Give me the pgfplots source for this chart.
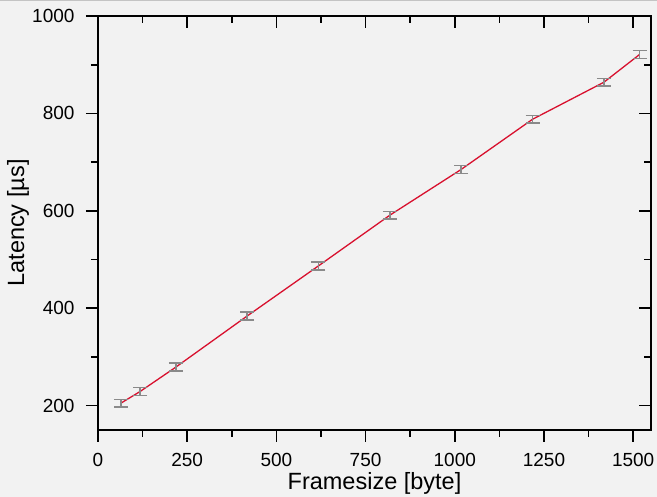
\documentclass[border=0pt]{standalone}
\usepackage{fontspec}
\setmainfont{Liberation Sans}
\usepackage{pgfplots}
\pgfplotsset{compat=1.18}
\definecolor{bgpanel}{HTML}{F2F2F2}
\definecolor{topline}{HTML}{C4C4C4}
\definecolor{latred}{HTML}{D8102E}
\definecolor{errgray}{HTML}{8A8A8A}

% frame size [byte], latency [us], error [us]
\pgfplotstableread{
x    y    e
64   205  8
118  229  8
218  279  8
418  384  8
618  487  8
818  591  8
1018 685  8
1218 788  8
1418 864  8
1518 921  8
}\latency

\pgfplotsset{
  frame/.style={
    scale only axis, width=553pt, height=414pt,
    xmin=0, xmax=1550, ymin=150, ymax=1000,
    xtick={0,250,...,1500}, ytick={200,400,...,1000},
    minor tick num=1,
    major tick length=12pt, minor tick length=7pt,
    axis line style={line width=1.6pt},
    every tick/.style={black, line width=1.6pt},
    axis background/.style={fill=none},
  },
}

\begin{document}
\begin{tikzpicture}
\fill[bgpanel] (-98pt,-67pt) rectangle (559pt,430pt);
\draw[topline, line width=1.2pt] (-98pt,429.4pt) -- (559pt,429.4pt);

\begin{axis}[frame,
  tick align=outside,
  xtick pos=bottom, ytick pos=left,
  /pgf/number format/assume math mode=true,
  /pgf/number format/1000 sep={},
  ticklabel style={font=\fontsize{19}{21}\selectfont},
  xticklabel style={yshift=-8pt},
  yticklabel style={xshift=-8pt},
  label style={font=\fontsize{23.5}{26}\selectfont},
  xlabel={Framesize [byte]},
  ylabel={Latency [µs]},
  xlabel style={at={(axis description cs:0.5,0)}, anchor=center, yshift=-53pt},
  ylabel style={at={([xshift=-80pt]axis description cs:0,0.5)}, anchor=center},
]
\addplot[latred, line width=1.3pt, no markers] table[x=x, y=y] {\latency};
\addplot[draw=none, no markers, forget plot,
  error bars/.cd, y dir=both, y explicit,
  error mark=|,
  error bar style={errgray, line width=1.6pt},
  error mark options={errgray, mark size=7pt, line width=1.6pt}]
  table[x=x, y=y, y error=e] {\latency};
\end{axis}

\begin{axis}[frame,
  tick align=inside,
  xtick pos=top, ytick pos=right,
  xticklabels={}, yticklabels={},
]
\end{axis}

\pgfresetboundingbox
\path (-98pt,-67pt) rectangle (559pt,430pt);
\end{tikzpicture}
\end{document}
